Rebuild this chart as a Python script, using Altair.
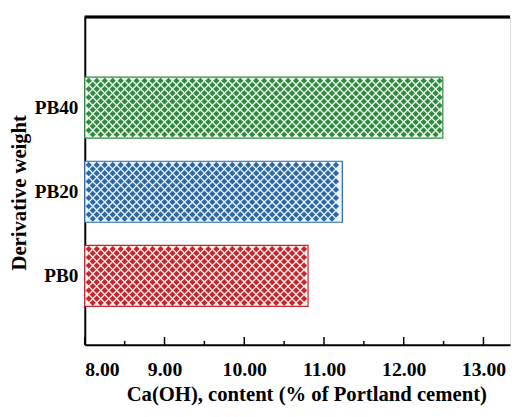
import altair as alt
import pandas as pd

categories = ["PB0", "PB20", "PB40"]
values = [10.80, 11.23, 12.49]
bar_colors = ["#c3262c", "#2a68a6", "#2f8a3f"]
bar_tints = ["#fbeeee", "#edf3fa", "#eef7ef"]
major_ticks = [8, 9, 10, 11, 12, 13]
minor_ticks = [8.5, 9.5, 10.5, 11.5, 12.5]

W, H = 432, 333
XMIN, XMAX = 8, 8 + W / 81.0
FONT = "Liberation Serif"

df = pd.DataFrame({"cat": categories, "value": values})
major_df = pd.DataFrame({"t": major_ticks})
minor_df = pd.DataFrame({"t": minor_ticks})

xscale = alt.Scale(domain=[XMIN, XMAX], nice=False, zero=False)
yscale = alt.Scale(domain=["PB40", "PB20", "PB0"], paddingInner=0.275,
                   paddingOuter=0.585, align=0.61)
fill_scale = alt.Scale(domain=categories, range=bar_tints)
col_scale = alt.Scale(domain=categories, range=bar_colors)

XT = "Ca(OH), content (% of Portland cement)"
YT = "Derivative weight"

xaxis = alt.Axis(values=major_ticks, labelExpr="format(datum.value, '.2f')", ticks=False,
                 grid=False, domainColor="black", domainWidth=2,
                 labelFont=FONT, labelFontWeight="bold", labelFontSize=20,
                 labelColor="black", labelPadding=15,
                 title=XT, titleFont=FONT, titleFontWeight="bold", titleFontSize=21,
                 titleColor="black", titleX=225, titleY=51, titleBaseline="middle")
yaxis = alt.Axis(ticks=False, grid=False, domainColor="black", domainWidth=2,
                 labelFont=FONT, labelFontWeight="bold", labelFontSize=19.5,
                 labelColor="black", labelPadding=7,
                 title=YT, titleFont=FONT, titleFontWeight="bold", titleFontSize=21,
                 titleColor="black", titleX=-66, titleY=178, titleBaseline="middle",
                 titleAngle=270)

bars = alt.Chart(df).mark_bar(strokeWidth=1.2).encode(
    x=alt.X("value:Q", scale=xscale, axis=xaxis, title=XT),
    x2=alt.datum(XMIN),
    y=alt.Y("cat:N", scale=yscale, axis=yaxis, title=YT),
    fill=alt.Fill("cat:N", scale=fill_scale, legend=None),
    stroke=alt.Stroke("cat:N", scale=col_scale, legend=None),
)

diamonds = alt.Chart(df).transform_calculate(
    rows="sequence(0, 14)"
).transform_flatten(["rows"]).transform_calculate(
    xs="sequence(8.05 + (datum.rows % 2) * 0.05, datum.value - 0.03, 0.1)",
    dy="3.7 + datum.rows * 4.2",
).transform_flatten(["xs"]).mark_point(shape="diamond", filled=True, size=40,
                                        opacity=1).encode(
    x=alt.X("xs:Q", scale=xscale, axis=xaxis, title=XT),
    y=alt.Y("cat:N", scale=yscale, axis=yaxis, title=YT),
    yOffset=alt.YOffset("dy:Q", scale=None),
    color=alt.Color("cat:N", scale=col_scale, legend=None),
)

major_rules = alt.Chart(major_df).mark_rule(color="black", strokeWidth=1.5).encode(
    x=alt.X("t:Q", scale=xscale, axis=xaxis, title=XT),
    y=alt.value(H),
    y2=alt.value(H - 8),
)
minor_rules = alt.Chart(minor_df).mark_rule(color="black", strokeWidth=1.5).encode(
    x=alt.X("t:Q", scale=xscale, axis=xaxis, title=XT),
    y=alt.value(H),
    y2=alt.value(H - 4),
)

top_line = alt.Chart(df).mark_rule(color="black", strokeWidth=2.5).encode(
    x=alt.value(0), x2=alt.value(W), y=alt.value(0)
)

chart = alt.layer(bars, diamonds, major_rules, minor_rules, top_line).properties(
    width=W, height=H,
    padding={"left": 78, "top": 6, "right": 2, "bottom": 62},
    autosize=alt.AutoSizeParams(type="none"),
).configure_view(strokeWidth=0).configure(background="white")

chart.save("out.html", embed_options={"renderer": "svg", "actions": False})
